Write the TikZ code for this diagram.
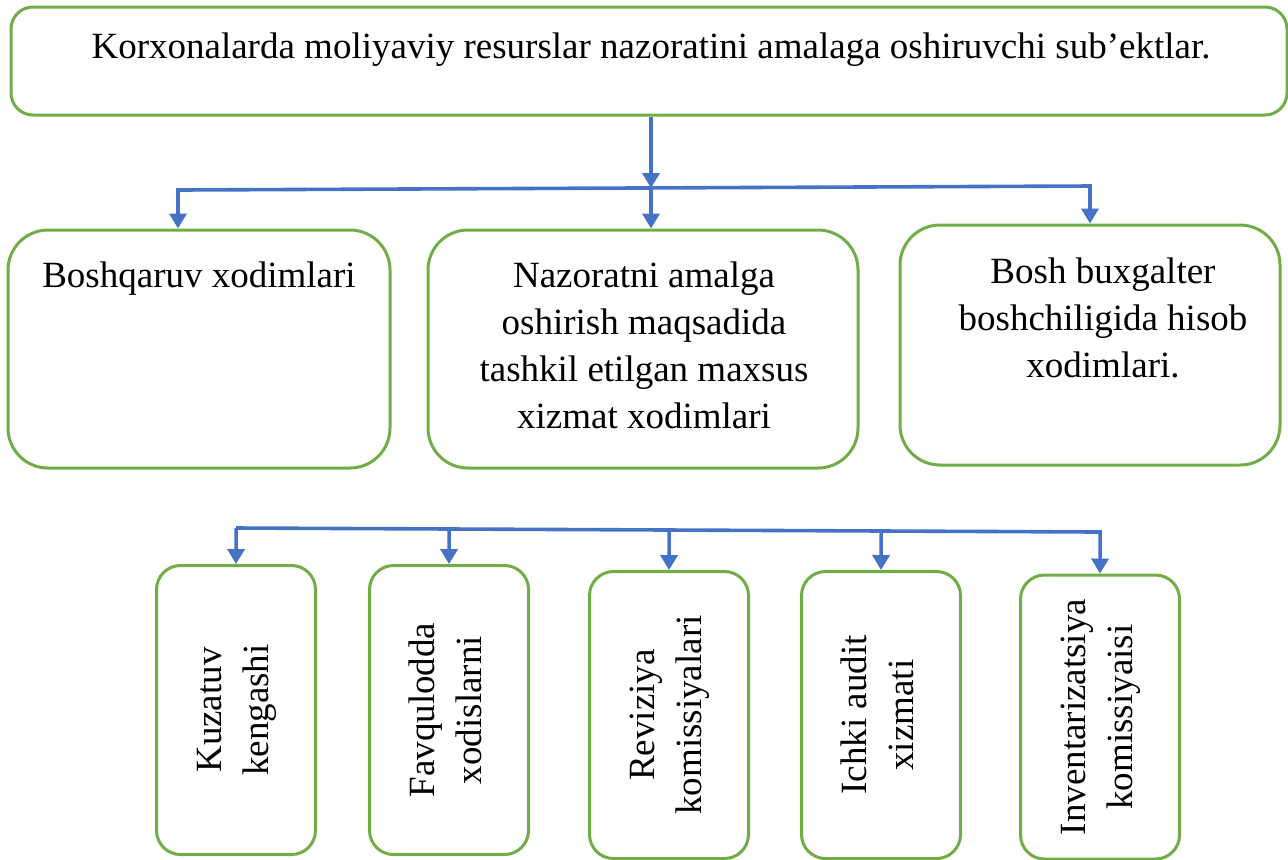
\documentclass[tikz,border=0pt]{standalone}
\usepackage{fontspec}
\setmainfont{Liberation Serif}
\usepackage{graphicx}
\usetikzlibrary{positioning,calc,arrows.meta}
\definecolor{BoxGreen}{HTML}{70AD47}
\definecolor{LinkBlue}{HTML}{4472C4}

\begin{document}
\begin{tikzpicture}[x=0.5pt, y=-0.5pt,
    font=\fontsize{18.5}{23.5}\selectfont,
    box/.style={draw=BoxGreen, line width=1.5pt, rounded corners=12pt, inner sep=0pt},
    label text/.style={anchor=north, inner sep=0pt, align=center},
    bus/.style={draw=LinkBlue, line width=1.8pt, line cap=rect},
    link/.style={draw=LinkBlue, line width=1.8pt, -{Triangle[length=7.5pt,width=8.5pt]}}]
  \useasboundingbox (0,0) rectangle (1288,859);

  % top box
  \node[box, rounded corners=11pt, minimum width=638pt, minimum height=54pt] (main) at (649,61) {};
  \node[label text] (maintext) at (651,32)
    {Korxonalarda moliyaviy resurslar nazoratini amalaga oshiruvchi sub’ektlar.};

  % middle row
  \foreach \name/\x/\y/\w/\h in {boss/199/349/191pt/119pt, maxsus/643/349/215pt/119pt, hisob/1090/345/190pt/120pt} {
    \node[box, rounded corners=20pt, minimum width=\w, minimum height=\h] (\name) at (\x,\y) {};
  }
  \node[label text] (bosstext) at (199,261) {Boshqaruv xodimlari};
  \node[label text] (maxsustext) at (644,261)
    {Nazoratni amalga\\oshirish maqsadida\\tashkil etilgan maxsus\\xizmat xodimlari};
  \node[label text] (hisobtext) at (1103,257)
    {Bosh buxgalter\\boshchiligida hisob\\xodimlari.};

  % top bus
  \coordinate (split) at (651,188);
  \coordinate (busL) at (178,190);
  \coordinate (busR) at (1090,186);
  \draw[link] (main.south -| split) -- (split);
  \draw[bus] (busL) -- (busR);
  \draw[link] (busL) -- (boss.north -| busL);
  \draw[link] (split) -- (maxsus.north -| split);
  \draw[link] (busR) -- (hisob.north -| busR);

  % bottom row
  \foreach \name/\x/\y/\h/\lines in {kuzatuv/236/710/144.5pt/{Kuzatuv\\kengashi},
      favqulodda/449/710/144.5pt/{Favqulodda\\xodislarni},
      reviziya/669/715/143.5pt/{Reviziya\\komissiyalari},
      audit/881/715/143.5pt/{Ichki audit\\xizmati},
      invent/1100/717/142pt/{Inventarizatsiya\\komissiyaisi}} {
    \node[box, minimum width=79.5pt, minimum height=\h] (\name) at (\x,\y)
      {\rotatebox{90}{\begin{tabular}{@{}c@{}}\lines\end{tabular}}};
  }

  % bottom bus
  \coordinate (lowL) at (238,528);
  \coordinate (lowR) at (1100,532);
  \draw[bus] (lowL) -- (lowR);
  \foreach \name in {kuzatuv, favqulodda, reviziya, audit, invent} {
    \draw[link] ($(lowL)!(\name.north)!(lowR)$) -- (\name.north);
  }
\end{tikzpicture}
\end{document}
